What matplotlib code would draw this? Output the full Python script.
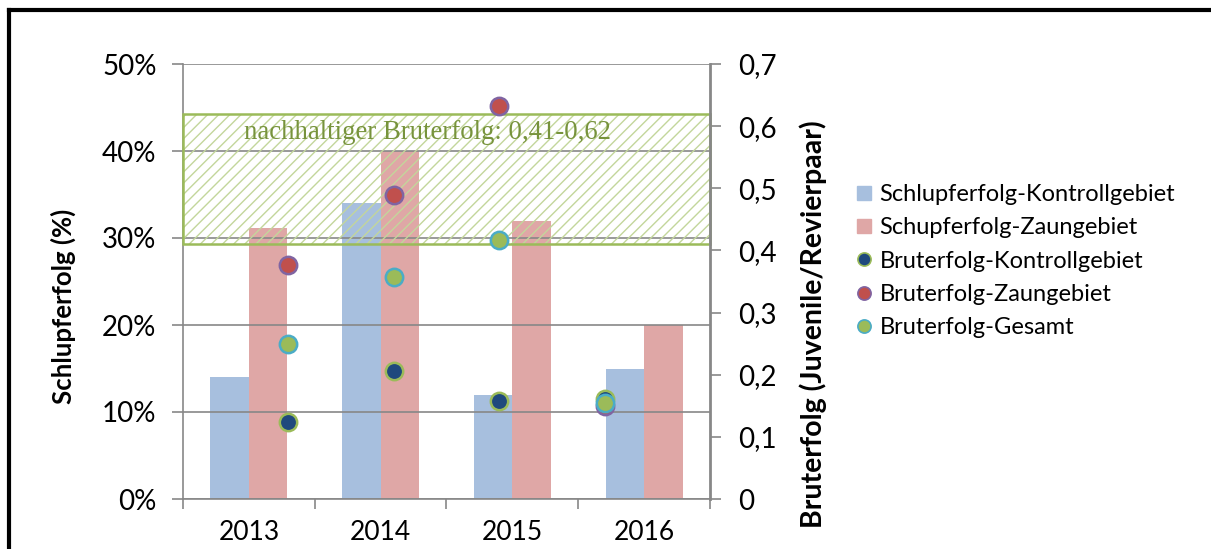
import numpy as np
import matplotlib
matplotlib.use("Agg")
import matplotlib.pyplot as plt
from matplotlib.patches import Rectangle
from matplotlib.lines import Line2D

plt.rcParams['font.family'] = ['Lato', 'DejaVu Sans']
plt.rcParams['hatch.linewidth'] = 1.0

# Schlupf- und Bruterfolg je Jahr
years = ['2013', '2014', '2015', '2016']
schlupf_kontroll = [14.0, 34.0, 12.0, 15.0]   # Prozent
schlupf_zaun = [31.1, 40.0, 32.0, 20.0]       # Prozent
brut_kontroll = [0.124, 0.206, 0.158, 0.161]  # Juvenile/Revierpaar
brut_zaun = [0.376, 0.489, 0.633, 0.150]
brut_gesamt = [0.249, 0.358, 0.417, 0.155]
ziel_min, ziel_max = 0.41, 0.62

BLUE_BAR = '#A7BFDE'
RED_BAR = '#DFA7A6'
GRID = '#878787'

fig = plt.figure(figsize=(12.11, 5.49), dpi=100)
rect = [183 / 1211, 50 / 549, 527 / 1211, 435 / 549]

# --- primary axes: bars in percent ---
ax = fig.add_axes(rect)
x = np.arange(len(years))
w = 0.292
ax.bar(x - w / 2, schlupf_kontroll, w, color=BLUE_BAR, zorder=1)
ax.bar(x + w / 2, schlupf_zaun, w, color=RED_BAR, zorder=1)
ax.set_xlim(-0.5, len(years) - 0.5)
ax.set_ylim(0, 50)
ax.set_yticks(range(0, 51, 10))
ax.set_yticklabels([f'{v}%' for v in range(0, 51, 10)], fontsize=20)
ax.set_axisbelow(False)
ax.grid(axis='y', color=GRID, lw=1.2)
ax.tick_params(axis='y', direction='out', length=8, width=1.2, color=GRID, pad=11)

ax.set_xticks(np.arange(-0.5, len(years)), labels=[''] * (len(years) + 1))
ax.set_xticks(x, labels=years, minor=True)
ax.tick_params(axis='x', which='major', direction='out', length=7, width=1.2, color=GRID)
ax.tick_params(axis='x', which='minor', length=0, labelsize=19, pad=15)

for side in ('top', 'right'):
    ax.spines[side].set_visible(False)
for side in ('left', 'bottom'):
    ax.spines[side].set_color(GRID)
    ax.spines[side].set_linewidth(1.2)

# --- secondary axes: breeding success points ---
ax2 = fig.add_axes(rect)
ax2.set_facecolor('none')
ax2.set_xlim(0, 5)
ax2.set_ylim(0, 0.7)
ax2.xaxis.set_visible(False)
for side in ('left', 'top', 'bottom'):
    ax2.spines[side].set_visible(False)
ax2.spines['right'].set_color(GRID)
ax2.spines['right'].set_linewidth(2)
ax2.yaxis.tick_right()
yt = np.round(np.arange(0, 0.71, 0.1), 1)
ax2.set_yticks(yt)
ax2.set_yticklabels(['0' if v == 0 else f'{v:.1f}'.replace('.', ',') for v in yt], fontsize=20)
ax2.tick_params(axis='y', direction='out', length=8, width=1.2, color=GRID, pad=12)

# target range box with hatching
ax2.add_patch(Rectangle((0, ziel_min), 5, ziel_max - ziel_min, facecolor='none',
                        edgecolor='#C3D69B', hatch='///', lw=0, zorder=2))
ax2.add_patch(Rectangle((0, ziel_min), 5, ziel_max - ziel_min, fill=False,
                        edgecolor='#9BBB59', lw=1.8, zorder=2, clip_on=False))
ax2.text(2.315, 0.589, 'nachhaltiger Bruterfolg: 0,41-0,62', ha='center', va='center',
         fontfamily='Liberation Serif', fontsize=19.3, color='#77933C', zorder=3)

px = np.arange(1, len(years) + 1)
ax2.plot(px, brut_kontroll, 'o', ms=12.5, mfc='#1F497D', mec='#9BBB59', mew=1.8,
         zorder=4, clip_on=False)
ax2.plot(px, brut_zaun, 'o', ms=12.5, mfc='#C0504D', mec='#8064A2', mew=1.8,
         zorder=4, clip_on=False)
ax2.plot(px, brut_gesamt, 'o', ms=12.5, mfc='#9BBB59', mec='#4BACC6', mew=1.8,
         zorder=4, clip_on=False)

# axis titles
fig.text(63 / 1211, 1 - 306 / 549, 'Schlupferfolg (%)', rotation=90, ha='center',
         va='center', fontsize=18.5, fontweight='bold')
fig.text(813 / 1211, 1 - 324 / 549, 'Bruterfolg (Juvenile/Revierpaar)', rotation=90,
         ha='center', va='center', fontsize=20.5, fontweight='bold')

# legend
handles = [
    Line2D([], [], ls='none', marker='s', ms=9.5, mfc=BLUE_BAR, mec=BLUE_BAR),
    Line2D([], [], ls='none', marker='s', ms=9.5, mfc=RED_BAR, mec=RED_BAR),
    Line2D([], [], ls='none', marker='o', ms=9.5, mfc='#1F497D', mec='#9BBB59', mew=1.2),
    Line2D([], [], ls='none', marker='o', ms=9.5, mfc='#C0504D', mec='#8064A2', mew=1.2),
    Line2D([], [], ls='none', marker='o', ms=9.5, mfc='#9BBB59', mec='#4BACC6', mew=1.2),
]
labels = ['Schlupferfolg-Kontrollgebiet', 'Schupferfolg-Zaungebiet',
          'Bruterfolg-Kontrollgebiet', 'Bruterfolg-Zaungebiet', 'Bruterfolg-Gesamt']
fig.legend(handles, labels, loc='upper left', bbox_to_anchor=(856 / 1211, 1 - 184 / 549),
           frameon=False, fontsize=17, handlelength=0.65, handletextpad=0.35,
           labelspacing=0.52, borderaxespad=0, borderpad=0)

# outer frame, only top and left edges lie inside the canvas
fig.add_artist(Line2D([9 / 1211, 9 / 1211], [-0.1, 1 - 10 / 549], color='black',
                      lw=3, solid_capstyle='projecting'))
fig.add_artist(Line2D([9 / 1211, 1.1], [1 - 10 / 549, 1 - 10 / 549], color='black',
                      lw=3, solid_capstyle='projecting'))

fig.savefig('out.png', dpi=100)
